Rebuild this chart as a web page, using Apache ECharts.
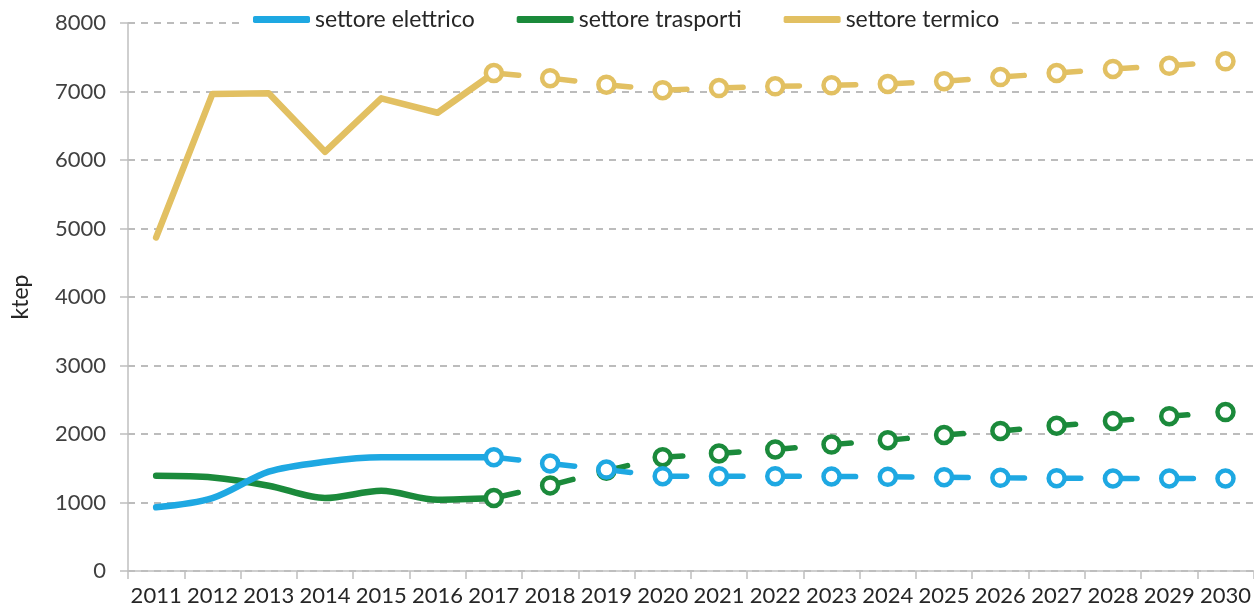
<!DOCTYPE html>
<html>
<head>
<meta charset="utf-8">
<script src="https://cdn.jsdelivr.net/npm/echarts@6/dist/echarts.min.js"></script>
<style>
  html, body { margin: 0; padding: 0; background: #fff; }
  #chart { width: 1254px; height: 610px; }
</style>
</head>
<body>
<div id="chart"></div>
<script>
// anni
var years = ["2011", "2012", "2013", "2014", "2015", "2016", "2017", "2018", "2019", "2020",
  "2021", "2022", "2023", "2024", "2025", "2026", "2027", "2028", "2029", "2030"];
// ktep per settore (storico fino al 2017, poi scenario)
var elettrico = [930, 1065, 1450, 1595, 1660, 1660, 1660, 1570, 1480, 1385,
  1385, 1385, 1380, 1375, 1370, 1360, 1355, 1350, 1350, 1350];
var trasporti = [1390, 1365, 1245, 1065, 1170, 1040, 1065, 1250, 1465, 1660,
  1715, 1775, 1845, 1910, 1985, 2045, 2120, 2190, 2260, 2320];
var termico = [4870, 6965, 6975, 6120, 6900, 6690, 7270, 7195, 7100, 7020,
  7050, 7075, 7090, 7110, 7150, 7210, 7270, 7330, 7375, 7440];
var yTicks = [0, 1000, 2000, 3000, 4000, 5000, 6000, 7000, 8000];
var lastHist = 6; // indice del 2017

var names = ["settore elettrico", "settore trasporti", "settore termico"];
var colors = ["#1ea8e2", "#1b8a3b", "#e2c062"];
var font = "Lato";

function storico(arr) {
  return arr.map(function (v, i) { return i <= lastHist ? v : null; });
}
function scenario(arr) {
  return arr.map(function (v, i) { return i >= lastHist ? v : null; });
}

function histSeries(name, arr, color, smooth, z) {
  return {
    name: name,
    type: "line",
    data: storico(arr),
    symbol: "none",
    smooth: smooth,
    z: z,
    lineStyle: { color: color, width: 6.5, cap: "round", join: "round" },
    itemStyle: { color: color }
  };
}
function projSeries(name, arr, color, z) {
  return {
    name: name + " (scenario)",
    type: "line",
    data: scenario(arr),
    symbol: "circle",
    symbolSize: 16,
    z: z,
    lineStyle: { color: color, width: 5.5, type: [25, 31.3], cap: "round" },
    itemStyle: { color: "#ffffff", borderColor: color, borderWidth: 4.5 }
  };
}

var myChart = echarts.init(document.getElementById("chart"));
var option = {
  animation: false,
  backgroundColor: "#ffffff",
  textStyle: { fontFamily: font },
  legend: {
    data: names,
    left: 243,
    top: 5,
    padding: [3, 10],
    backgroundColor: "#ffffff",
    icon: "roundRect",
    itemWidth: 57,
    itemHeight: 7,
    itemGap: 42,
    textStyle: { fontFamily: font, fontSize: 23, color: "#262626" }
  },
  grid: { left: 128, right: 0, top: 23, bottom: 39 },
  xAxis: {
    type: "category",
    data: years,
    boundaryGap: true,
    axisLine: { lineStyle: { color: "#bfbfbf", width: 1.5 } },
    axisTick: { show: true, length: 8, lineStyle: { color: "#bfbfbf", width: 1.5 } },
    axisLabel: { fontFamily: font, fontSize: 22, color: "#262626", margin: 14, interval: 0 }
  },
  yAxis: {
    type: "value",
    min: yTicks[0],
    max: yTicks[yTicks.length - 1],
    interval: 1000,
    name: "ktep",
    nameLocation: "middle",
    nameGap: 96,
    nameTextStyle: { fontFamily: font, fontSize: 23, color: "#262626" },
    axisLine: { show: true, lineStyle: { color: "#bfbfbf", width: 1.5 } },
    axisTick: { show: true, length: 8, lineStyle: { color: "#bfbfbf", width: 1.5 } },
    axisLabel: {
      fontFamily: font, fontSize: 22, color: "#404040", margin: 22,
      formatter: function (v) { return String(v); }
    },
    splitLine: { lineStyle: { color: "#a6a6a6", width: 1.5, type: [7, 6] } }
  },
  series: [
    histSeries(names[2], termico, colors[2], false, 2),
    projSeries(names[2], termico, colors[2], 3),
    histSeries(names[1], trasporti, colors[1], 0.3, 4),
    projSeries(names[1], trasporti, colors[1], 5),
    histSeries(names[0], elettrico, colors[0], 0.3, 6),
    projSeries(names[0], elettrico, colors[0], 7)
  ]
};
myChart.setOption(option);
</script>
</body>
</html>
